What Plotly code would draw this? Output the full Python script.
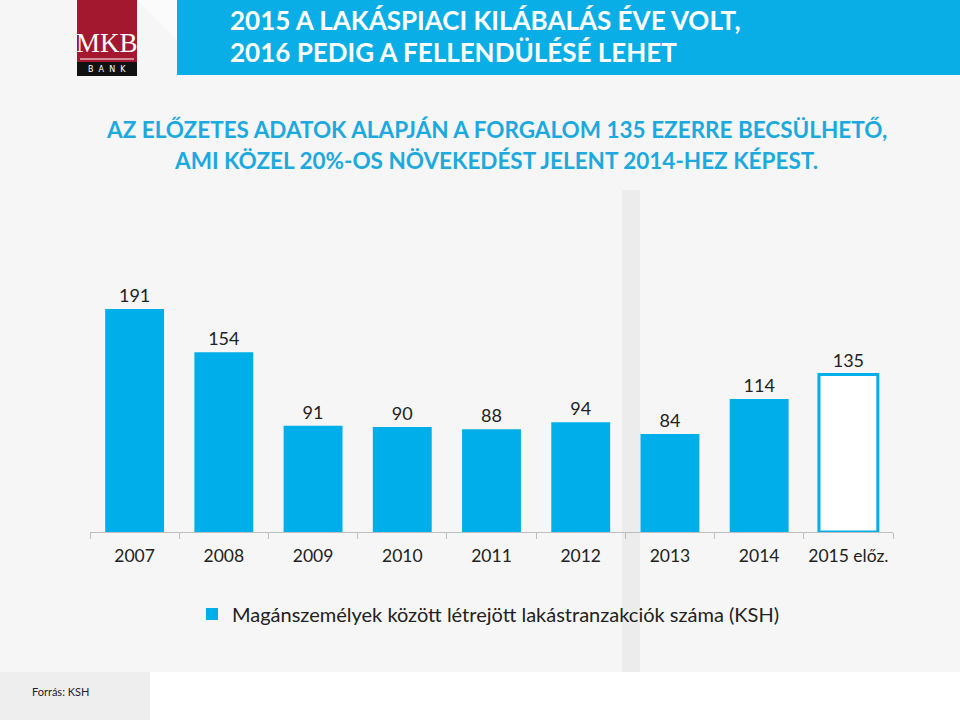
import plotly.graph_objects as go

years = ["2007", "2008", "2009", "2010", "2011", "2012", "2013", "2014", "2015 előz."]
values = [191, 154, 91, 90, 88, 94, 84, 114, 135]
series_name = "Magánszemélyek között létrejött lakástranzakciók száma (KSH)"
title_lines = ["2015 A LAKÁSPIACI KILÁBALÁS ÉVE VOLT,", "2016 PEDIG A FELLENDÜLÉSÉ LEHET"]
subtitle_lines = ["AZ ELŐZETES ADATOK ALAPJÁN A FORGALOM 135 EZERRE BECSÜLHETŐ,",
                  "AMI KÖZEL 20%-OS NÖVEKEDÉST JELENT 2014-HEZ KÉPEST."]
source_text = "Forrás: KSH"

BLUE = "#00AEEA"
W, H = 960, 720
L, R, T, B = 90, 893, 280, 532
FONT = "Lato"


def px(x):
    return (x - L) / (R - L)


def py(y):
    return (B - y) / (B - T)


fill = [BLUE] * (len(values) - 1) + ["white"]

fig = go.Figure()
fig.add_trace(go.Bar(
    x=years, y=values, name=series_name,
    marker=dict(color=fill, line=dict(color=BLUE, width=[0] * (len(values) - 1) + [3])),
    width=0.66,
    text=[str(v) for v in values], textposition="outside",
    textfont=dict(family=FONT, size=18, color="#222222"),
    cliponaxis=False,
    showlegend=True,
))

shapes = []
# background decoration
shapes.append(dict(type="rect", xref="paper", yref="paper", x0=px(0), x1=px(W), y0=py(0), y1=py(H),
                   fillcolor="#f6f6f6", line=dict(width=0), layer="below"))
shapes.append(dict(type="rect", xref="paper", yref="paper", x0=px(622), x1=px(640), y0=py(190), y1=py(H),
                   fillcolor="#ececec", line=dict(width=0), layer="below"))
shapes.append(dict(type="rect", xref="paper", yref="paper", x0=px(150), x1=px(W), y0=py(672), y1=py(H),
                   fillcolor="white", line=dict(width=0), layer="below"))
shapes.append(dict(type="rect", xref="paper", yref="paper", x0=px(0), x1=px(150), y0=py(672), y1=py(H),
                   fillcolor="#eeeeee", line=dict(width=0), layer="below"))
shapes.append(dict(type="path", xref="paper", yref="paper",
                   path=f"M {px(137)},{py(0)} L {px(177)},{py(0)} L {px(177)},{py(40)} Z",
                   fillcolor="#fbfbfb", line=dict(width=0), layer="below"))
# header band
shapes.append(dict(type="rect", xref="paper", yref="paper", x0=px(177), x1=px(W), y0=py(0), y1=py(75),
                   fillcolor="#0AAEE6", line=dict(width=0)))
# logo
shapes.append(dict(type="rect", xref="paper", yref="paper", x0=px(77), x1=px(137), y0=py(0), y1=py(62),
                   fillcolor="#A3182F", line=dict(width=0)))
shapes.append(dict(type="rect", xref="paper", yref="paper", x0=px(77), x1=px(137), y0=py(62), y1=py(76),
                   fillcolor="#111111", line=dict(width=0)))
shapes.append(dict(type="line", xref="paper", yref="paper", x0=px(80), x1=px(134), y0=py(59), y1=py(59),
                   line=dict(color="white", width=1)))

annotations = []
for i, t in enumerate(title_lines):
    annotations.append(dict(text=f"<b>{t}</b>", xref="paper", yref="paper", x=px(228), y=py(20 + 32 * i),
                            xanchor="left", yanchor="middle", showarrow=False,
                            font=dict(family=FONT, size=26, color="white")))
for i, t in enumerate(subtitle_lines):
    annotations.append(dict(text=f"<b>{t}</b>", xref="paper", yref="paper", x=px(496), y=py(130 + 31 * i),
                            xanchor="center", yanchor="middle", showarrow=False,
                            font=dict(family=FONT, size=22.5, color="#1BA9DF")))
annotations.append(dict(text="MKB", xref="paper", yref="paper", x=px(107), y=py(43),
                        xanchor="center", yanchor="middle", showarrow=False,
                        font=dict(family="Liberation Serif", size=27, color="white")))
annotations.append(dict(text="B  A  N  K", xref="paper", yref="paper", x=px(107), y=py(69),
                        xanchor="center", yanchor="middle", showarrow=False,
                        font=dict(family="DejaVu Sans", size=8, color="white")))
annotations.append(dict(text=source_text, xref="paper", yref="paper", x=px(30), y=py(691),
                        xanchor="left", yanchor="middle", showarrow=False,
                        font=dict(family=FONT, size=11, color="#222222")))

fig.update_layout(
    width=W, height=H,
    margin=dict(l=L, r=W - R, t=T, b=H - B),
    paper_bgcolor="white", plot_bgcolor="rgba(0,0,0,0)",
    font=dict(family=FONT, size=16, color="#222222"),
    xaxis=dict(showline=True, linecolor="#bdbdbd", linewidth=1, ticks="outside", tickson="boundaries",
               ticklen=6, tickcolor="#bdbdbd", tickfont=dict(family=FONT, size=17.5, color="#222222"),
               ticklabelstandoff=8,
               tickangle=0, showgrid=False, range=[-0.5, len(years) - 0.5]),
    yaxis=dict(visible=False, range=[0, (B - T) / (223 / 191)], showgrid=False),
    bargap=0.34,
    shapes=shapes, annotations=annotations,
    legend=dict(orientation="h", x=px(488), xanchor="center", y=py(614), yanchor="middle",
                font=dict(family=FONT, size=20, color="#222222"), bgcolor="rgba(0,0,0,0)"),
)

fig.write_html("out.html", config={"displayModeBar": False},
               post_script="document.body.style.margin='0';")
